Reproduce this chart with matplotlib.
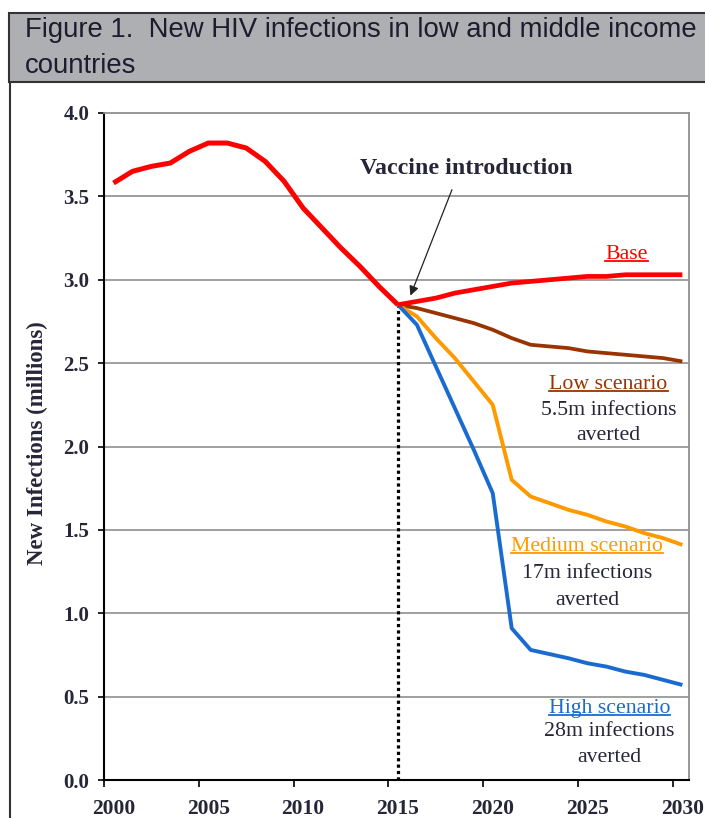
import matplotlib
matplotlib.use("Agg")
import matplotlib.pyplot as plt
from matplotlib.patches import Rectangle
from matplotlib.lines import Line2D
from matplotlib.ticker import FixedLocator, NullFormatter, FixedFormatter

# ---------------- data ----------------
years_hist = list(range(2000, 2016))
base_hist = [3.58, 3.65, 3.68, 3.70, 3.77, 3.82, 3.82, 3.79, 3.71, 3.59,
             3.43, 3.31, 3.19, 3.08, 2.96, 2.85]
years_proj = list(range(2015, 2031))
base_proj = [2.85, 2.87, 2.89, 2.92, 2.94, 2.96, 2.98, 2.99, 3.00, 3.01,
             3.02, 3.02, 3.03, 3.03, 3.03, 3.03]
low = [2.85, 2.83, 2.80, 2.77, 2.74, 2.70, 2.65, 2.61, 2.60, 2.59,
       2.57, 2.56, 2.55, 2.54, 2.53, 2.51]
medium = [2.85, 2.78, 2.65, 2.53, 2.39, 2.25, 1.80, 1.70, 1.66, 1.62,
          1.59, 1.55, 1.52, 1.48, 1.45, 1.41]
high = [2.85, 2.73, 2.48, 2.23, 1.98, 1.72, 0.91, 0.78, 0.755, 0.73,
        0.70, 0.68, 0.65, 0.63, 0.60, 0.57]
vaccine_year = 2015
vaccine_value = 2.85

year_labels = [2000, 2005, 2010, 2015, 2020, 2025, 2030]
y_ticks = [0.0, 0.5, 1.0, 1.5, 2.0, 2.5, 3.0, 3.5, 4.0]

title_line1 = "Figure 1.  New HIV infections in low and middle income"
title_line2 = "countries"
ylabel = "New Infections (millions)"

RED = "#FF0000"
BROWN = "#993300"
ORANGE = "#FF9900"
BLUE = "#1A6BD0"
TXT = "#262638"

SERIF = "Liberation Serif"

# ---------------- figure ----------------
W, H = 705, 818
fig = plt.figure(figsize=(W / 100, H / 100), dpi=100)
fig.patch.set_facecolor("white")

def fx(px):
    return px / W

def fy(py):
    return 1 - py / H

# title band
fig.patches.append(Rectangle((fx(9), fy(82)), fx(720) - fx(9), fy(12.5) - fy(82),
                             transform=fig.transFigure, facecolor="#ADAFB2",
                             edgecolor="#333333", linewidth=1.5, zorder=0))
fig.lines.append(Line2D([fx(9.5), fx(9.5)], [fy(82), fy(830)], transform=fig.transFigure,
                        color="#333333", linewidth=1.5))

t1 = fig.text(fx(25), fy(37), title_line1, fontsize=19, family="Liberation Sans",
              color="#1c1c2e", va="baseline", ha="left")
t2 = fig.text(fx(25), fy(73), title_line2, fontsize=19, family="Liberation Sans",
              color="#1c1c2e", va="baseline", ha="left")

# axes
ax = fig.add_axes([fx(104), fy(780), fx(689) - fx(104), fy(113) - fy(780)])
ax.set_xlim(1999.5, 2030.35)
ax.set_ylim(0, 4.0)

for v in y_ticks[1:-1]:
    ax.axhline(v, color="#8f8f8f", linewidth=1.2, zorder=1)

for s in ["top", "right"]:
    ax.spines[s].set_color("#8f8f8f")
    ax.spines[s].set_linewidth(1.3)
for s in ["left", "bottom"]:
    ax.spines[s].set_color("black")
    ax.spines[s].set_linewidth(1.5)

# vertical dotted line at vaccine introduction
ax.plot([vaccine_year, vaccine_year], [0, vaccine_value], color="black",
        linewidth=2.3, linestyle=(0, (1, 1)), dash_capstyle="butt", zorder=2)

ax.plot(years_hist, base_hist, color=RED, linewidth=3.6, zorder=5,
        solid_capstyle="butt", solid_joinstyle="round")
ax.plot(years_proj, low, color=BROWN, linewidth=2.7, zorder=3, solid_capstyle="butt")
ax.plot(years_proj, medium, color=ORANGE, linewidth=2.8, zorder=3, solid_capstyle="butt")
ax.plot(years_proj, high, color=BLUE, linewidth=2.8, zorder=4, solid_capstyle="butt")
ax.plot(years_proj, base_proj, color=RED, linewidth=3.4, zorder=5, solid_capstyle="butt")

# ticks
ax.yaxis.set_major_locator(FixedLocator(y_ticks))
ax.set_yticklabels([f"{v:.1f}" for v in y_ticks])
ax.tick_params(axis="y", which="major", direction="out", length=4.5, width=1.2,
               color="black", pad=6, labelsize=15, labelcolor=TXT)

ax.xaxis.set_major_locator(FixedLocator([y - 0.5 for y in year_labels]))
ax.xaxis.set_major_formatter(NullFormatter())
ax.xaxis.set_minor_locator(FixedLocator(year_labels))
ax.xaxis.set_minor_formatter(FixedFormatter([str(y) for y in year_labels]))
ax.tick_params(axis="x", which="major", direction="out", length=4.8, width=1.2,
               color="black")
ax.tick_params(axis="x", which="minor", length=0, pad=14, labelsize=15.5, labelcolor=TXT)

for lab in ax.get_yticklabels() + ax.get_xticklabels(minor=True):
    lab.set_fontfamily(SERIF)
    lab.set_fontweight("bold")

fig.text(fx(37), fy(443), ylabel, rotation=90, family=SERIF, fontsize=16.5,
         fontweight="bold", color=TXT, ha="center", va="center")

# annotation
ax.annotate("", xy=(2015.66, 2.905), xytext=(2017.85, 3.54),
            arrowprops=dict(arrowstyle="-|>", color="#222222", lw=0.9,
                            mutation_scale=14, shrinkA=0, shrinkB=0))
ax.text(2018.6, 3.67, "Vaccine introduction", family=SERIF, fontsize=17.2,
        fontweight="bold", color=TXT, ha="center", va="center")

labels = []
def lab(x, y, s, color, underline=False):
    t = ax.text(x, y, s, family=SERIF, fontsize=15.7, color=color,
                ha="center", va="center", zorder=6)
    if underline:
        labels.append((t, color))
    return t

lab(2027.05, 3.153, "Base", RED, True)
lab(2026.1, 2.374, "Low scenario", BROWN, True)
lab(2026.1, 2.218, "5.5m infections", TXT)
lab(2026.1, 2.068, "averted", TXT)
lab(2024.99, 1.398, "Medium scenario", ORANGE, True)
lab(2024.99, 1.240, "17m infections", TXT)
lab(2024.99, 1.078, "averted", TXT)
lab(2026.16, 0.430, "High scenario", BLUE, True)
lab(2026.16, 0.288, "28m infections", TXT)
lab(2026.16, 0.136, "averted", TXT)

# fit title width and draw underlines
fig.canvas.draw()
w = t1.get_window_extent().width
target = 672.0
new = 19 * target / w
t1.set_fontsize(new)
t2.set_fontsize(new)
fig.canvas.draw()
for t, color in labels:
    bb = t.get_window_extent()
    yline = bb.y0 + 3.0
    fig.lines.append(Line2D([bb.x0 / W, bb.x1 / W], [yline / H, yline / H],
                            transform=fig.transFigure, color=color, linewidth=1.3))

fig.savefig("out.png", dpi=100)
